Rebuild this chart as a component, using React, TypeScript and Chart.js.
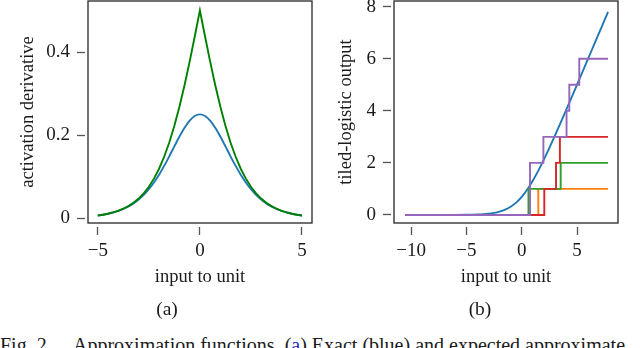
import React, { useEffect, useRef } from "react";
import { Chart, registerables } from "chart.js";

Chart.register(...registerables);

// ---------- Panel (a): activation derivative ----------
const derivX = [-5, -4.75, -4.5, -4.25, -4, -3.75, -3.5, -3.25, -3, -2.75, -2.5, -2.25, -2, -1.75, -1.5, -1.25, -1, -0.75, -0.5, -0.25, 0, 0.25, 0.5, 0.75, 1, 1.25, 1.5, 1.75, 2, 2.25, 2.5, 2.75, 3, 3.25, 3.5, 3.75, 4, 4.25, 4.5, 4.75, 5];
const exactDeriv = [0.0066, 0.0085, 0.0109, 0.0139, 0.0177, 0.0225, 0.0285, 0.0359, 0.0452, 0.0565, 0.0701, 0.0863, 0.105, 0.1261, 0.1491, 0.1731, 0.1966, 0.2179, 0.235, 0.2461, 0.25, 0.2461, 0.235, 0.2179, 0.1966, 0.1731, 0.1491, 0.1261, 0.105, 0.0863, 0.0701, 0.0565, 0.0452, 0.0359, 0.0285, 0.0225, 0.0177, 0.0139, 0.0109, 0.0085, 0.0066];
const approxDeriv = [0.0067, 0.0086, 0.011, 0.0141, 0.018, 0.023, 0.0293, 0.0373, 0.0474, 0.0601, 0.0759, 0.0954, 0.1192, 0.148, 0.1824, 0.2227, 0.2689, 0.3208, 0.3775, 0.4378, 0.5, 0.4378, 0.3775, 0.3208, 0.2689, 0.2227, 0.1824, 0.148, 0.1192, 0.0954, 0.0759, 0.0601, 0.0474, 0.0373, 0.0293, 0.023, 0.018, 0.0141, 0.011, 0.0086, 0.0067];
const derivXTicks = [-5, 0, 5];
const derivYTicks = [0, 0.2, 0.4];

// ---------- Panel (b): tiled-logistic output ----------
const softX = [-10.5, -10, -9, -8, -7, -6, -5, -4.5, -4, -3.5, -3, -2.5, -2, -1.5, -1, -0.5, 0, 0.5, 1, 1.5, 2, 2.5, 3, 3.5, 4, 4.5, 5, 5.5, 6, 6.5, 7, 7.5, 7.8];
const softY = [0, 0, 0.0001, 0.0003, 0.0009, 0.0025, 0.0067, 0.011, 0.018, 0.03, 0.049, 0.079, 0.127, 0.201, 0.313, 0.474, 0.693, 0.974, 1.313, 1.701, 2.127, 2.579, 3.049, 3.53, 4.018, 4.511, 5.007, 5.504, 6.002, 6.502, 7.001, 7.501, 7.8];
const orangeX = [-10.5, 1.5, 7.8];
const orangeY = [0, 1, 1];
const greenX = [-10.5, 0.61, 3.52, 7.8];
const greenY = [0, 1, 2, 2];
const redX = [-10.5, 2.04, 3.1, 3.45, 7.8];
const redY = [0, 1, 2, 3, 3];
const purpleX = [-10.5, 0.75, 1.96, 4.05, 4.3, 5.2, 7.8];
const purpleY = [0, 2, 3, 4, 5, 6, 6];
const tiledXTicks = [-10, -5, 0, 5];
const tiledYTicks = [0, 2, 4, 6, 8];

const SERIF = '"Liberation Serif", "Times New Roman", serif';
const TEXT = "#1a1a1a";
const TICK = "#555555";

const pts = (xs: number[], ys: number[]) => xs.map((x, i) => ({ x, y: ys[i] }));
const fmt = (v: number | string) => String(v).replace("-", "\u2212");

const framePlugin = {
  id: "frame",
  afterDatasetsDraw(chart: any) {
    const { ctx, chartArea: a } = chart;
    ctx.save();
    ctx.strokeStyle = "#262626";
    ctx.lineWidth = 1.3;
    ctx.strokeRect(a.left, a.top, a.right - a.left, a.bottom - a.top);
    ctx.restore();
  },
};

function makeOptions(p: {
  xMin: number; xMax: number; yMin: number; yMax: number;
  xTicks: number[]; yTicks: number[];
  yWidth: number; padRight: number; xTitle: string; yTitle: string; yTitlePad: number;
}) {
  return {
    responsive: false,
    animation: false as const,
    layout: { padding: { top: 1, right: p.padRight, left: 0, bottom: 0 } },
    plugins: { legend: { display: false }, tooltip: { enabled: false } },
    elements: { point: { radius: 0 } },
    scales: {
      x: {
        type: "linear" as const,
        position: "bottom" as const,
        min: p.xMin,
        max: p.xMax,
        afterBuildTicks: (s: any) => { s.ticks = p.xTicks.map((value) => ({ value })); },
        afterFit: (s: any) => { s.height = 77; s.paddingLeft = 0; s.paddingRight = 0; },
        border: { display: false },
        grid: {
          drawOnChartArea: false, drawTicks: true, tickLength: 12,
          tickColor: TICK, tickWidth: 1.3, tickBorderDash: [0, 4, 8, 100],
        },
        ticks: {
          padding: 5, autoSkip: false, maxRotation: 0, color: TEXT,
          font: { family: SERIF, size: 19 },
          callback: (v: any) => fmt(v),
        },
        title: {
          display: true, text: p.xTitle, color: TEXT,
          font: { family: SERIF, size: 18.5 },
          padding: { top: 0, bottom: 12 },
        },
      },
      y: {
        type: "linear" as const,
        position: "left" as const,
        min: p.yMin,
        max: p.yMax,
        afterBuildTicks: (s: any) => { s.ticks = p.yTicks.map((value) => ({ value })); },
        afterFit: (s: any) => { s.width = p.yWidth; s.paddingTop = 0; s.paddingBottom = 0; },
        border: { display: false },
        grid: {
          drawOnChartArea: false, drawTicks: true, tickLength: 11,
          tickColor: TICK, tickWidth: 1.3, tickBorderDash: [8, 100],
        },
        ticks: {
          padding: 7, autoSkip: false, color: TEXT,
          font: { family: SERIF, size: 19 },
          callback: (v: any) => fmt(v),
        },
        title: {
          display: true, text: p.yTitle, color: TEXT,
          font: { family: SERIF, size: 18.5 },
          padding: { top: p.yTitlePad, bottom: 0 },
        },
      },
    },
  };
}

export default function App() {
  const leftRef = useRef<HTMLCanvasElement>(null);
  const rightRef = useRef<HTMLCanvasElement>(null);

  useEffect(() => {
    const left = new Chart(leftRef.current as HTMLCanvasElement, {
      type: "line",
      data: {
        datasets: [
          {
            data: pts(derivX, exactDeriv), borderColor: "#1f77b4", borderWidth: 1.9,
            cubicInterpolationMode: "monotone", order: 2,
          },
          {
            data: pts(derivX, approxDeriv), borderColor: "#008000", borderWidth: 1.9,
            tension: 0, order: 1,
          },
        ],
      },
      options: makeOptions({
        xMin: -5.48, xMax: 5.49, yMin: -0.0113, yMax: 0.5227,
        xTicks: derivXTicks, yTicks: derivYTicks, yWidth: 88, padRight: 8,
        xTitle: "input to unit", yTitle: "activation derivative", yTitlePad: 17,
      }) as any,
      plugins: [framePlugin],
    });

    const right = new Chart(rightRef.current as HTMLCanvasElement, {
      type: "line",
      data: {
        datasets: [
          { data: pts(softX, softY), borderColor: "#1f77b4", borderWidth: 1.9, cubicInterpolationMode: "monotone", order: 5 },
          { data: pts(orangeX, orangeY), borderColor: "#ff7f0e", borderWidth: 1.9, stepped: true, order: 4 },
          { data: pts(greenX, greenY), borderColor: "#2ca02c", borderWidth: 1.9, stepped: true, order: 3 },
          { data: pts(redX, redY), borderColor: "#d62728", borderWidth: 1.9, stepped: true, order: 2 },
          { data: pts(purpleX, purpleY), borderColor: "#9467bd", borderWidth: 1.9, stepped: true, order: 1 },
        ],
      },
      options: makeOptions({
        xMin: -11.54, xMax: 8.7, yMin: -0.31, yMax: 8.22,
        xTicks: tiledXTicks, yTicks: tiledYTicks, yWidth: 74, padRight: 22,
        xTitle: "input to unit", yTitle: "tiled-logistic output", yTitlePad: 15,
      }) as any,
      plugins: [framePlugin],
    });

    return () => {
      left.destroy();
      right.destroy();
    };
  }, []);

  const textBase: React.CSSProperties = {
    position: "absolute", fontFamily: SERIF, color: TEXT, lineHeight: 1, whiteSpace: "nowrap",
  };

  return (
    <div style={{ position: "fixed", left: 0, top: 0, width: 640, height: 348, overflow: "hidden", background: "#fff" }}>
      <canvas ref={leftRef} width={320} height={300} style={{ position: "absolute", left: 0, top: 0 }} />
      <canvas ref={rightRef} width={320} height={300} style={{ position: "absolute", left: 320, top: 0 }} />
      <div style={{ ...textBase, left: 0, width: 334, top: 299, fontSize: 19.5, textAlign: "center" }}>(a)</div>
      <div style={{ ...textBase, left: 320, width: 320, top: 299, fontSize: 19.5, textAlign: "center" }}>(b)</div>
      <div style={{ ...textBase, left: 0, top: 335, fontSize: 20 }}>Fig. 2.</div>
      <div style={{ ...textBase, left: 73, top: 335, fontSize: 20 }}>
        Approximation functions. (<span style={{ color: "#1f1fd0" }}>a</span>) Exact (blue) and expected approximate
      </div>
    </div>
  );
}
